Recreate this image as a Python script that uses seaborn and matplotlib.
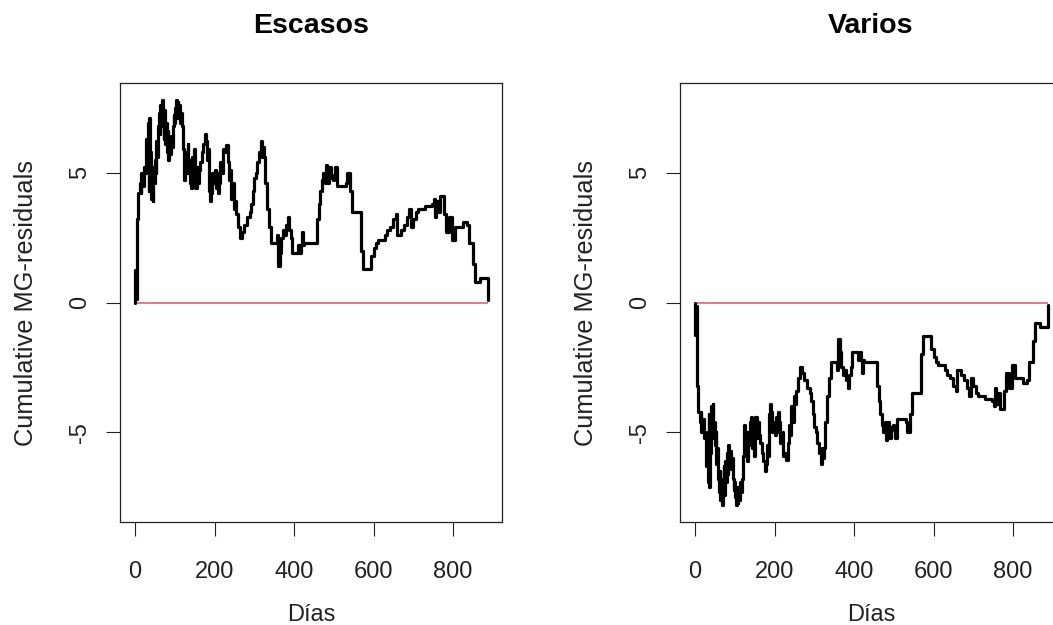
import numpy as np
import pandas as pd
import matplotlib
matplotlib.use("Agg")
import matplotlib.pyplot as plt
import seaborn as sns

# Days at which the cumulative martingale residual process changes value
days = [0, 1, 2, 4, 8, 12, 14, 16, 19, 22, 25, 28, 30, 32, 34, 36, 38, 40, 42, 44,
        46, 48, 50, 52, 54, 56, 58, 60, 62, 64, 66, 68, 70, 72, 74, 76, 78, 80, 82, 84,
        86, 88, 90, 92, 95, 97, 99, 101, 103, 105, 107, 109, 111, 113, 116, 118, 120, 122, 124, 126,
        128, 130, 132, 134, 136, 138, 140, 142, 144, 146, 148, 150, 152, 155, 158, 161, 164, 168, 172, 176,
        178, 181, 184, 186, 188, 190, 192, 194, 197, 200, 203, 206, 209, 212, 215, 218, 221, 225, 229, 233,
        236, 239, 242, 245, 248, 252, 255, 260, 265, 270, 275, 282, 288, 292, 296, 300, 305, 308, 312, 316,
        319, 322, 325, 328, 331, 338, 342, 352, 356, 360, 364, 368, 372, 376, 380, 384, 388, 392, 396, 404,
        410, 414, 418, 420, 422, 426, 457, 462, 466, 470, 474, 478, 481, 484, 488, 492, 497, 500, 504, 507,
        530, 532, 540, 545, 568, 573, 591, 594, 600, 606, 612, 628, 635, 642, 648, 656, 658, 664, 668, 676,
        684, 690, 694, 700, 708, 712, 730, 748, 752, 755, 758, 762, 768, 776, 778, 783, 790, 797, 804, 810,
        826, 834, 840, 849, 856, 868, 889]

# Cumulative MG-residuals, group "Escasos"
escasos = [0.0, 1.25, 0.15, 3.2, 4.2, 4.6, 4.2, 5.0, 4.5, 5.2, 5.0, 6.3, 5.2, 6.9, 4.3, 7.1, 5.8, 4.0, 4.4, 3.9,
           5.2, 4.6, 5.5, 5.0, 6.2, 5.6, 6.8, 7.3, 6.5, 7.6, 6.8, 7.8, 7.0, 6.3, 7.4, 6.1, 6.9, 5.8, 6.6, 5.5,
           6.3, 5.7, 6.4, 6.0, 6.8, 7.2, 6.9, 7.5, 7.8, 7.1, 7.7, 7.2, 7.6, 6.9, 7.3, 6.8, 5.9, 5.2, 4.7, 5.6,
           5.0, 5.8, 6.1, 5.0, 5.5, 4.6, 5.3, 4.4, 5.6, 4.8, 5.9, 5.0, 4.4, 5.2, 4.6, 5.1, 5.4, 5.8, 6.1, 6.5,
           6.2, 5.5, 5.9, 4.3, 3.9, 4.8, 4.2, 5.0, 4.6, 5.1, 4.4, 5.0, 4.2, 4.6, 5.4, 5.0, 5.9, 5.8, 6.05, 5.4,
           4.7, 5.1, 4.0, 4.6, 3.6, 3.9, 3.4, 2.9, 2.5, 2.7, 3.0, 3.3, 3.5, 3.8, 4.3, 4.8, 5.0, 5.4, 5.8, 6.2,
           5.6, 6.0, 5.6, 4.6, 3.6, 2.9, 2.3, 2.3, 2.6, 1.4, 1.9, 2.5, 2.8, 2.6, 3.0, 3.3, 2.8, 2.5, 1.9, 1.9,
           2.2, 1.9, 2.2, 2.7, 2.2, 2.3, 3.2, 3.8, 4.3, 4.7, 5.0, 4.6, 5.3, 4.6, 5.2, 4.8, 4.7, 4.9, 5.2, 4.5,
           4.6, 5.0, 4.3, 3.5, 2.0, 1.3, 1.3, 1.8, 2.1, 2.3, 2.4, 2.6, 2.8, 2.9, 3.2, 3.4, 2.6, 2.6, 2.8, 3.0,
           3.3, 3.6, 2.9, 3.2, 3.5, 3.6, 3.7, 3.8, 4.0, 3.3, 3.9, 3.5, 4.1, 4.1, 3.4, 2.7, 3.3, 2.4, 2.9, 2.9,
           3.1, 3.0, 2.3, 1.5, 0.8, 0.93, 0.08]

# Cumulative MG-residuals, group "Varios"
varios = [-0.0, -1.25, -0.15, -3.2, -4.2, -4.6, -4.2, -5.0, -4.5, -5.2, -5.0, -6.3, -5.2, -6.9, -4.3, -7.1, -5.8, -4.0, -4.4, -3.9,
          -5.2, -4.6, -5.5, -5.0, -6.2, -5.6, -6.8, -7.3, -6.5, -7.6, -6.8, -7.8, -7.0, -6.3, -7.4, -6.1, -6.9, -5.8, -6.6, -5.5,
          -6.3, -5.7, -6.4, -6.0, -6.8, -7.2, -6.9, -7.5, -7.8, -7.1, -7.7, -7.2, -7.6, -6.9, -7.3, -6.8, -5.9, -5.2, -4.7, -5.6,
          -5.0, -5.8, -6.1, -5.0, -5.5, -4.6, -5.3, -4.4, -5.6, -4.8, -5.9, -5.0, -4.4, -5.2, -4.6, -5.1, -5.4, -5.8, -6.1, -6.5,
          -6.2, -5.5, -5.9, -4.3, -3.9, -4.8, -4.2, -5.0, -4.6, -5.1, -4.4, -5.0, -4.2, -4.6, -5.4, -5.0, -5.9, -5.8, -6.05, -5.4,
          -4.7, -5.1, -4.0, -4.6, -3.6, -3.9, -3.4, -2.9, -2.5, -2.7, -3.0, -3.3, -3.5, -3.8, -4.3, -4.8, -5.0, -5.4, -5.8, -6.2,
          -5.6, -6.0, -5.6, -4.6, -3.6, -2.9, -2.3, -2.3, -2.6, -1.4, -1.9, -2.5, -2.8, -2.6, -3.0, -3.3, -2.8, -2.5, -1.9, -1.9,
          -2.2, -1.9, -2.2, -2.7, -2.2, -2.3, -3.2, -3.8, -4.3, -4.7, -5.0, -4.6, -5.3, -4.6, -5.2, -4.8, -4.7, -4.9, -5.2, -4.5,
          -4.6, -5.0, -4.3, -3.5, -2.0, -1.3, -1.3, -1.8, -2.1, -2.3, -2.4, -2.6, -2.8, -2.9, -3.2, -3.4, -2.6, -2.6, -2.8, -3.0,
          -3.3, -3.6, -2.9, -3.2, -3.5, -3.6, -3.7, -3.8, -4.0, -3.3, -3.9, -3.5, -4.1, -4.1, -3.4, -2.7, -3.3, -2.4, -2.9, -2.9,
          -3.1, -3.0, -2.3, -1.5, -0.8, -0.93, -0.08]

panel_titles = ["Escasos", "Varios"]
x_ticks = [0, 200, 400, 600, 800]
y_ticks = [-5, 0, 5]
x_label = "Días"
y_label = "Cumulative MG-residuals"

sns.set_style("white")
plt.rcParams["font.family"] = ["Liberation Sans", "DejaVu Sans"]

fig = plt.figure(figsize=(10.53, 6.25), dpi=100)
positions = [[0.1140, 0.1648, 0.3628, 0.7024],
             [0.6458, 0.1648, 0.3628, 0.7024]]

label_color = "#222222"
for pos, title, values in zip(positions, panel_titles, [escasos, varios]):
    ax = fig.add_axes(pos)
    df = pd.DataFrame({"day": days, "resid": values})
    sns.lineplot(data=df, x="day", y="resid", ax=ax, estimator=None, sort=False,
                 drawstyle="steps-post", color="black", linewidth=2.3)
    ax.hlines(0, days[0], days[-1], color="#DF536B", linewidth=1.1, zorder=1)

    ax.set_xlim(-37.7, 923.3)
    ax.set_ylim(-8.45, 8.45)
    ax.set_xticks(x_ticks)
    ax.set_yticks(y_ticks)
    ax.set_yticklabels([str(v) for v in y_ticks], rotation=90, va="center")
    ax.tick_params(axis="both", direction="out", length=10, width=0.8,
                   color="#222222", labelsize=17, labelcolor=label_color,
                   left=True, bottom=True)
    ax.tick_params(axis="x", pad=18)
    ax.tick_params(axis="y", pad=11)
    for s in ax.spines.values():
        s.set_visible(True)
        s.set_color("#222222")
        s.set_linewidth(0.9)
    ax.grid(False)
    ax.set_xlabel(x_label, fontsize=17, color=label_color, labelpad=15.5)
    ax.set_ylabel(y_label, fontsize=18.3, color=label_color, labelpad=22)
    ax.set_title(title, fontsize=20.5, fontweight="bold", color="black", pad=36)

fig.savefig("out.png", dpi=100)
